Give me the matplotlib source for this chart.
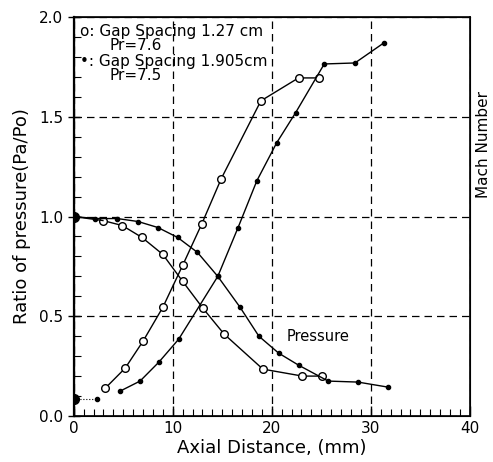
import matplotlib.pyplot as plt
from matplotlib.ticker import MultipleLocator

# Mach number, gap spacing 1.27 cm (open circles)
mach_a_x = [3.2, 5.2, 7.0, 9.0, 11.0, 12.95, 14.9, 18.9, 22.7, 24.8]
mach_a_y = [0.14, 0.24, 0.375, 0.545, 0.755, 0.965, 1.19, 1.58, 1.695, 1.695]

# Mach number, gap spacing 1.905 cm (filled)
mach_b_x = [4.7, 6.7, 8.6, 10.6, 14.55, 16.6, 18.5, 20.5, 22.4, 25.3, 28.4, 31.3]
mach_b_y = [0.125, 0.175, 0.27, 0.385, 0.70, 0.945, 1.18, 1.37, 1.52, 1.765, 1.77, 1.87]

# start points of the Mach curves
mach_start_x = [0, 2.35]
mach_start_y = [0.085, 0.085]

# pressure ratio, 1.27 cm
pres_a_x = [0, 2.95, 4.9, 6.9, 9.0, 11.0, 13.05, 15.2, 19.1, 23.1, 25.1]
pres_a_y = [1.0, 0.98, 0.955, 0.895, 0.81, 0.675, 0.54, 0.41, 0.235, 0.20, 0.20]

# pressure ratio, 1.905 cm
pres_b_x = [0, 2.2, 4.4, 6.5, 8.5, 10.5, 12.5, 14.55, 16.8, 18.7, 20.7, 22.7, 25.7, 28.7, 31.7]
pres_b_y = [1.0, 0.99, 0.99, 0.975, 0.945, 0.895, 0.82, 0.70, 0.545, 0.40, 0.315, 0.255, 0.175, 0.17, 0.145]

fig = plt.figure(figsize=(4.93, 4.62), dpi=100)
ax = fig.add_axes([0.1495, 0.0996, 0.8035, 0.8634])

open_kw = dict(color='black', lw=1.0, marker='o', ms=5.5, mfc='white', mec='black', mew=1.0)
fill_kw = dict(color='black', lw=1.0, marker='o', ms=3, mfc='black', mec='black')

ax.plot(mach_a_x, mach_a_y, **open_kw)
ax.plot(mach_b_x, mach_b_y, **fill_kw)
ax.plot(pres_a_x[1:], pres_a_y[1:], **open_kw)
ax.plot(pres_a_x[:2], pres_a_y[:2], color='black', lw=1.0)
ax.plot(pres_b_x, pres_b_y, **fill_kw)
ax.plot(mach_start_x, mach_start_y, color='black', lw=0.8, ls=':', marker='o', ms=3)
ax.plot([0], [0.085], 'ko', ms=7)
ax.plot([0], [1.0], 'ko', ms=7)

ax.set_xlim(0, 40)
ax.set_ylim(0, 2.0)
ax.xaxis.set_major_locator(MultipleLocator(10))
ax.xaxis.set_minor_locator(MultipleLocator(1))
ax.yaxis.set_major_locator(MultipleLocator(0.5))
ax.yaxis.set_minor_locator(MultipleLocator(0.1))
ax.set_yticks([0, 0.5, 1.0, 1.5, 2.0])
ax.set_yticklabels(['0.0', '0.5', '1.0', '1.5', '2.0'])

ax.tick_params(which='both', direction='in', right=False, top=False, labelsize=11)
ax.tick_params(which='major', length=7, width=1.0)
ax.tick_params(which='minor', length=5, width=0.8)
ax.tick_params(axis='y', which='major', direction='inout', length=8)

ax.grid(True, which='major', color='black', ls=(0, (6, 4)), lw=0.9)

for s in ax.spines.values():
    s.set_linewidth(1.2)
ax.spines['left'].set_linewidth(1.6)

ax.set_xlabel('Axial Distance, (mm)', fontsize=13, labelpad=2)
ax.set_ylabel('Ratio of pressure(Pa/Po)', fontsize=13, labelpad=6)
ax2 = ax.twinx()
ax2.set_yticks([])
ax2.set_ylabel('Mach Number', fontsize=11)
ax2.yaxis.set_label_coords(1.015, 0.68)

ax.text(0.6, 1.93, 'o: Gap Spacing 1.27 cm', fontsize=11, va='center')
ax.text(3.6, 1.86, 'Pr=7.6', fontsize=11, va='center')
ax.text(0.6, 1.775, '\u2022: Gap Spacing 1.905cm', fontsize=11, va='center')
ax.text(3.6, 1.705, 'Pr=7.5', fontsize=11, va='center')
ax.text(21.5, 0.40, 'Pressure', fontsize=10.5, va='center')

fig.savefig('out.png', dpi=100)
